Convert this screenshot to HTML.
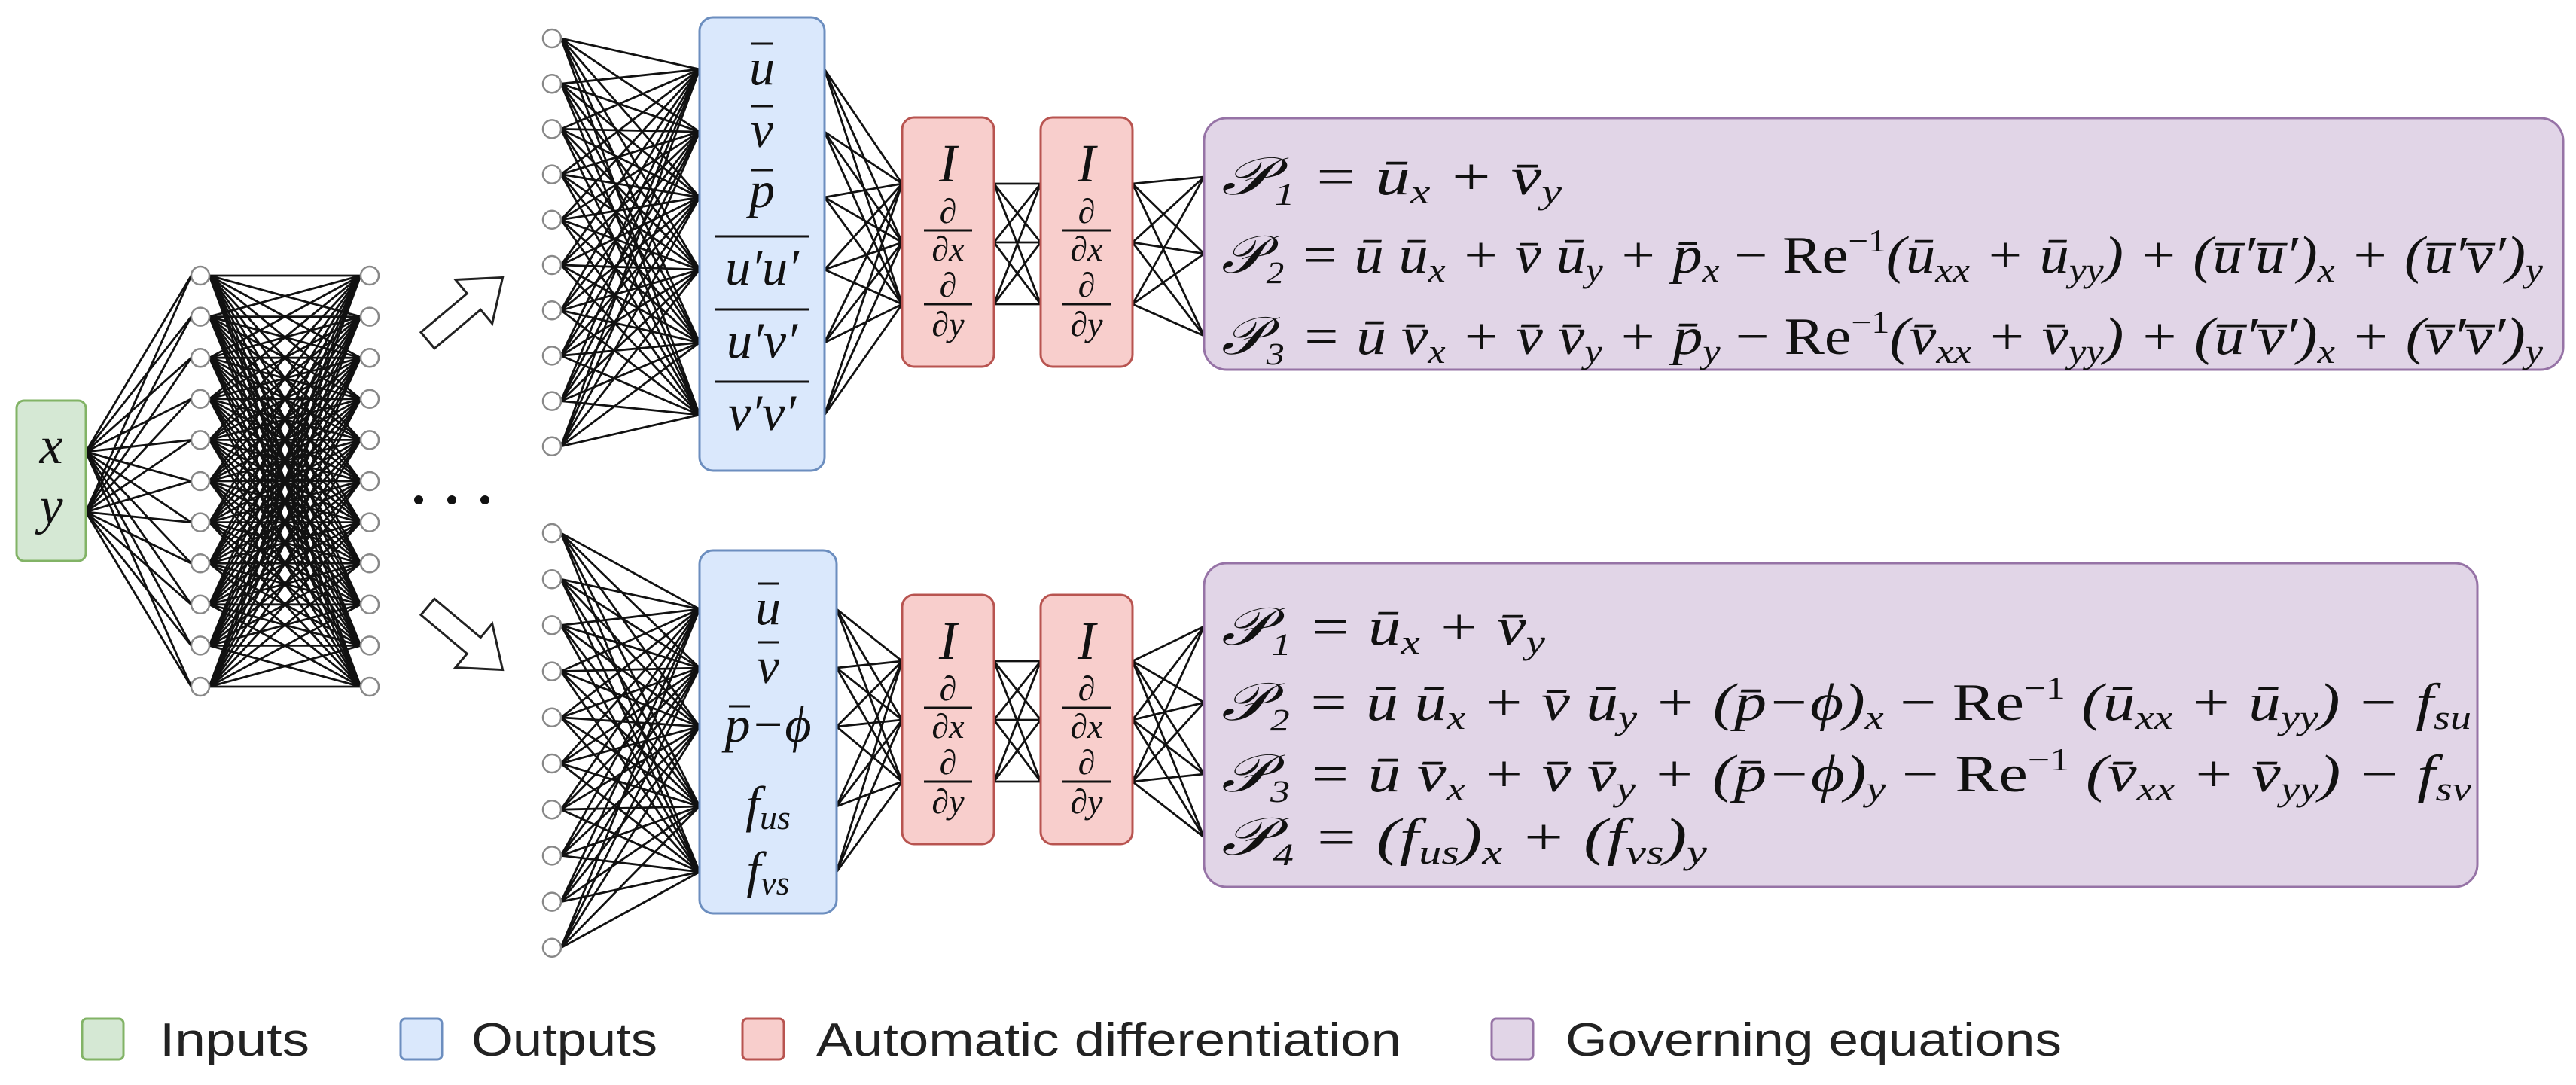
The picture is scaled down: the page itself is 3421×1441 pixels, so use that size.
<!DOCTYPE html>
<html><head><meta charset="utf-8"><style>
html,body{margin:0;padding:0;background:#fff;}
svg{display:block;}
.m{font-family:"Liberation Serif",serif;font-style:italic;fill:#111;}
.r{font-family:"Liberation Serif",serif;fill:#111;}
.lg{font-family:"Liberation Sans",sans-serif;fill:#222;font-size:62px;}
</style></head><body>
<svg id="s" width="3421" height="1441" viewBox="0 0 3421 1441" xmlns="http://www.w3.org/2000/svg">
<g id="lines" stroke="#111" stroke-width="2.8" fill="none"></g>
<rect x="22" y="532" width="92" height="213" rx="10" fill="#d5e8d4" stroke="#82b366" stroke-width="3"/>
<text class="m" x="68" y="615" font-size="70" text-anchor="middle">x</text>
<text class="m" x="68" y="695" font-size="70" text-anchor="middle">y</text>
<g id="nodes" fill="#fff" stroke="#888" stroke-width="2.5"></g>
<g fill="#111"><circle cx="556" cy="664" r="6"/><circle cx="600" cy="664" r="6"/><circle cx="644" cy="664" r="6"/></g>
<g fill="#fff" stroke="#222" stroke-width="3">
<polygon points="0,-14 80,-14 80,-38 130,0 80,38 80,14 0,14" transform="translate(568,452) rotate(-40)"/>
<polygon points="0,-14 80,-14 80,-38 130,0 80,38 80,14 0,14" transform="translate(568,806) rotate(40)"/>
</g>
<rect x="929" y="23" width="166" height="602" rx="18" fill="#dae8fc" stroke="#6c8ebf" stroke-width="3"/>
<g class="m" font-size="68" text-anchor="middle">
<text x="1012" y="112">u</text><line x1="998" y1="58" x2="1026" y2="58" stroke="#111" stroke-width="3"/>
<text x="1012" y="195">v</text><line x1="998" y1="141" x2="1026" y2="141" stroke="#111" stroke-width="3"/>
<text x="1012" y="275">p</text><line x1="998" y1="226" x2="1026" y2="226" stroke="#111" stroke-width="3"/>
<text x="1012" y="378">u′u′</text><line x1="950" y1="314" x2="1075" y2="314" stroke="#111" stroke-width="3"/>
<text x="1012" y="475">u′v′</text><line x1="950" y1="411" x2="1075" y2="411" stroke="#111" stroke-width="3"/>
<text x="1012" y="571">v′v′</text><line x1="950" y1="507" x2="1075" y2="507" stroke="#111" stroke-width="3"/>
</g>
<rect x="929" y="731" width="182" height="482" rx="18" fill="#dae8fc" stroke="#6c8ebf" stroke-width="3"/>
<g class="m" font-size="68" text-anchor="middle">
<text x="1020" y="829">u</text><line x1="1006" y1="775" x2="1034" y2="775" stroke="#111" stroke-width="3"/>
<text x="1020" y="907">v</text><line x1="1006" y1="853" x2="1034" y2="853" stroke="#111" stroke-width="3"/>
<text x="1020" y="985">p−ϕ</text><line x1="968" y1="938" x2="996" y2="938" stroke="#111" stroke-width="3"/>
<text x="1020" y="1091">f<tspan font-size="46" dy="10">us</tspan></text>
<text x="1020" y="1178">f<tspan font-size="46" dy="10">vs</tspan></text>
</g>
<g id="ad"></g>
<rect x="1599" y="157" width="1805" height="334" rx="30" fill="#e1d5e7" stroke="#9673a6" stroke-width="3"/>
<rect x="1599" y="748" width="1691" height="430" rx="30" fill="#e1d5e7" stroke="#9673a6" stroke-width="3"/>
<g class="m" font-size="70">
<text x="1622" y="258" textLength="452" lengthAdjust="spacingAndGlyphs">𝒫₁ = ū<tspan font-size="46" dy="12">x</tspan><tspan dy="-12"> + v̄</tspan><tspan font-size="46" dy="12">y</tspan></text>
<text x="1622" y="362" textLength="1755" lengthAdjust="spacingAndGlyphs">𝒫₂ = ū ū<tspan font-size="46" dy="12">x</tspan><tspan dy="-12"> + v̄ ū</tspan><tspan font-size="46" dy="12">y</tspan><tspan dy="-12"> + p̄</tspan><tspan font-size="46" dy="12">x</tspan><tspan dy="-12" class="r" font-style="normal"> − Re</tspan><tspan font-size="42" dy="-28" class="r" font-style="normal">−1</tspan><tspan dy="28">(ū</tspan><tspan font-size="46" dy="12">xx</tspan><tspan dy="-12"> + ū</tspan><tspan font-size="46" dy="12">yy</tspan><tspan dy="-12">) + (u̅′u̅′)</tspan><tspan font-size="46" dy="12">x</tspan><tspan dy="-12"> + (u̅′v̅′)</tspan><tspan font-size="46" dy="12">y</tspan></text>
<text x="1622" y="470" textLength="1755" lengthAdjust="spacingAndGlyphs">𝒫₃ = ū v̄<tspan font-size="46" dy="12">x</tspan><tspan dy="-12"> + v̄ v̄</tspan><tspan font-size="46" dy="12">y</tspan><tspan dy="-12">  + p̄</tspan><tspan font-size="46" dy="12">y</tspan><tspan dy="-12" class="r" font-style="normal"> − Re</tspan><tspan font-size="42" dy="-28" class="r" font-style="normal">−1</tspan><tspan dy="28">(v̄</tspan><tspan font-size="46" dy="12">xx</tspan><tspan dy="-12"> + v̄</tspan><tspan font-size="46" dy="12">yy</tspan><tspan dy="-12">) + (u̅′v̅′)</tspan><tspan font-size="46" dy="12">x</tspan><tspan dy="-12">  + (v̅′v̅′)</tspan><tspan font-size="46" dy="12">y</tspan></text>
<text x="1622" y="856" textLength="430" lengthAdjust="spacingAndGlyphs">𝒫₁ = ū<tspan font-size="46" dy="12">x</tspan><tspan dy="-12"> + v̄</tspan><tspan font-size="46" dy="12">y</tspan></text>
<text x="1622" y="956" textLength="1660" lengthAdjust="spacingAndGlyphs">𝒫₂ = ū ū<tspan font-size="46" dy="12">x</tspan><tspan dy="-12"> + v̄ ū</tspan><tspan font-size="46" dy="12">y</tspan><tspan dy="-12"> + (p̄−ϕ)</tspan><tspan font-size="46" dy="12">x</tspan><tspan dy="-12" class="r" font-style="normal"> − Re</tspan><tspan font-size="42" dy="-28" class="r" font-style="normal">−1</tspan><tspan dy="28"> (ū</tspan><tspan font-size="46" dy="12">xx</tspan><tspan dy="-12"> + ū</tspan><tspan font-size="46" dy="12">yy</tspan><tspan dy="-12">) − f</tspan><tspan font-size="46" dy="12">su</tspan></text>
<text x="1622" y="1051" textLength="1660" lengthAdjust="spacingAndGlyphs">𝒫₃ = ū v̄<tspan font-size="46" dy="12">x</tspan><tspan dy="-12"> + v̄ v̄</tspan><tspan font-size="46" dy="12">y</tspan><tspan dy="-12"> + (p̄−ϕ)</tspan><tspan font-size="46" dy="12">y</tspan><tspan dy="-12" class="r" font-style="normal">  − Re</tspan><tspan font-size="42" dy="-28" class="r" font-style="normal">−1</tspan><tspan dy="28"> (v̄</tspan><tspan font-size="46" dy="12">xx</tspan><tspan dy="-12">  + v̄</tspan><tspan font-size="46" dy="12">yy</tspan><tspan dy="-12">) − f</tspan><tspan font-size="46" dy="12">sv</tspan></text>
<text x="1622" y="1135" textLength="645" lengthAdjust="spacingAndGlyphs">𝒫₄ = (f<tspan font-size="46" dy="12">us</tspan><tspan dy="-12">)</tspan><tspan font-size="46" dy="12">x</tspan><tspan dy="-12"> + (f</tspan><tspan font-size="46" dy="12">vs</tspan><tspan dy="-12">)</tspan><tspan font-size="46" dy="12">y</tspan></text>
</g>
<rect x="109" y="1353" width="55" height="54" rx="6" fill="#d5e8d4" stroke="#82b366" stroke-width="3"/>
<rect x="532" y="1353" width="55" height="54" rx="6" fill="#dae8fc" stroke="#6c8ebf" stroke-width="3"/>
<rect x="986" y="1353" width="55" height="54" rx="6" fill="#f8cecc" stroke="#b85450" stroke-width="3"/>
<rect x="1981" y="1353" width="55" height="54" rx="6" fill="#e1d5e7" stroke="#9673a6" stroke-width="3"/>
<text class="lg" x="212" y="1402" textLength="199" lengthAdjust="spacingAndGlyphs">Inputs</text>
<text class="lg" x="626" y="1402" textLength="247" lengthAdjust="spacingAndGlyphs">Outputs</text>
<text class="lg" x="1084" y="1402" textLength="777" lengthAdjust="spacingAndGlyphs">Automatic differentiation</text>
<text class="lg" x="2079" y="1402" textLength="659" lengthAdjust="spacingAndGlyphs">Governing equations</text>
</svg>
<script>
var NS="http://www.w3.org/2000/svg";
var L=document.getElementById("lines"),N=document.getElementById("nodes"),A=document.getElementById("ad");
function ln(x1,y1,x2,y2){var e=document.createElementNS(NS,"line");e.setAttribute("x1",x1);e.setAttribute("y1",y1);e.setAttribute("x2",x2);e.setAttribute("y2",y2);L.appendChild(e);}
function full(xa,ya,xb,yb){ya.forEach(function(a){yb.forEach(function(b){ln(xa,a,xb,b);});});}
function circ(x,y){var e=document.createElementNS(NS,"circle");e.setAttribute("cx",x);e.setAttribute("cy",y);e.setAttribute("r",12);N.appendChild(e);}
function seq(a,d,n){var r=[];for(var i=0;i<n;i++)r.push(a+d*i);return r;}
var h=seq(366,54.6,11);
full(114,[600,680],254,h);
full(278,h,479,h);
h.forEach(function(y){circ(266,y);circ(491,y);});
var t=seq(51,60.2,10);
full(745,t,929,[92,175,262,358,455,551]);
t.forEach(function(y){circ(733,y);});
var b=seq(708,61.2,10);
full(745,b,929,[809,887,965,1071,1158]);
b.forEach(function(y){circ(733,y);});
var a1=[244,322,404],a2=[878,956,1038];
full(1095,[92,175,262,358,455,551],1198,a1);
full(1320,a1,1382,a1);
full(1504,a1,1599,[235,337,446]);
full(1111,[809,887,965,1071,1158],1198,a2);
full(1320,a2,1382,a2);
full(1504,a2,1599,[832,933,1028,1112]);
function adbox(x,y0){
 var s='<rect x="'+x+'" y="'+y0+'" width="122" height="331" rx="16" fill="#f8cecc" stroke="#b85450" stroke-width="3"/>';
 var c=x+61;
 s+='<text class="m" x="'+c+'" y="'+(y0+85)+'" font-size="72" text-anchor="middle">I</text>';
 s+='<text class="m" x="'+c+'" y="'+(y0+140)+'" font-size="46" text-anchor="middle">∂</text>';
 s+='<line x1="'+(c-32)+'" y1="'+(y0+150)+'" x2="'+(c+32)+'" y2="'+(y0+150)+'" stroke="#111" stroke-width="3"/>';
 s+='<text class="m" x="'+c+'" y="'+(y0+190)+'" font-size="46" text-anchor="middle">∂x</text>';
 s+='<text class="m" x="'+c+'" y="'+(y0+238)+'" font-size="46" text-anchor="middle">∂</text>';
 s+='<line x1="'+(c-32)+'" y1="'+(y0+248)+'" x2="'+(c+32)+'" y2="'+(y0+248)+'" stroke="#111" stroke-width="3"/>';
 s+='<text class="m" x="'+c+'" y="'+(y0+290)+'" font-size="46" text-anchor="middle">∂y</text>';
 return s;
}
A.innerHTML=adbox(1198,156)+adbox(1382,156)+adbox(1198,790)+adbox(1382,790);
</script>
</body></html>
